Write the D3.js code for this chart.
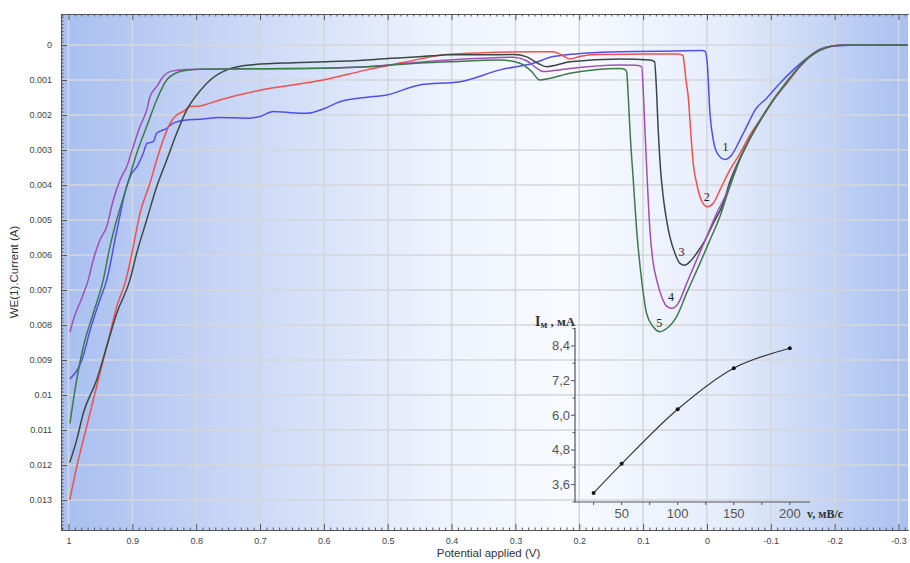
<!DOCTYPE html>
<html><head><meta charset="utf-8">
<script src="https://cdn.jsdelivr.net/npm/d3@7"></script>
<style>body{margin:0;background:#fff}svg{display:block}</style>
</head><body>
<svg id="c" width="910" height="563"></svg>
<script>
// ---------------- data ----------------
const xTickValues = [1,0.9,0.8,0.7,0.6,0.5,0.4,0.3,0.2,0.1,0,-0.1,-0.2,-0.3];
const yTickValues = [0,0.001,0.002,0.003,0.004,0.005,0.006,0.007,0.008,0.009,0.01,0.011,0.012,0.013];

// curve 1 (blue): [potential V, current A]
const curve1 = [[0.998,0.00954],[0.979,0.0090],[0.966,0.00814],[0.951,0.00729],[0.940,0.00671],[0.925,0.00537],[0.909,0.00405],[0.901,0.00367],[0.893,0.00348],[0.883,0.0031],[0.877,0.00281],[0.867,0.00276],[0.862,0.00252],[0.846,0.00238],[0.836,0.00223],[0.815,0.00214],[0.794,0.00212],[0.763,0.00207],[0.716,0.00209],[0.700,0.00204],[0.679,0.0019],[0.655,0.00193],[0.627,0.00195],[0.600,0.00182],[0.575,0.00162],[0.535,0.0015],[0.502,0.00143],[0.450,0.00114],[0.387,0.00105],[0.324,0.00071],[0.272,0.00052],[0.241,0.00033],[0.220,0.00028],[0.188,0.00023],[0.136,0.00019],[0.050,0.00017],[0.008,0.00016],[0.003,0.00018],[-0.0005,0.00052],[-0.0047,0.00195],[-0.0099,0.00271],[-0.0177,0.00314],[-0.0282,0.00327],[-0.0387,0.00314],[-0.0517,0.00271],[-0.0647,0.00224],[-0.0752,0.00186],[-0.0935,0.00152],[-0.1143,0.00109],[-0.1352,0.00071],[-0.1561,0.00038],[-0.177,0.00012],[-0.198,0.00003],[-0.25,0],[-0.315,0]];
// curve 2 (red)
const curve2 = [[0.998,0.0130],[0.987,0.01205],[0.9715,0.0109],[0.9585,0.00995],[0.9507,0.00938],[0.935,0.00824],[0.9245,0.00748],[0.910,0.00671],[0.8985,0.00576],[0.888,0.00481],[0.8724,0.00395],[0.8619,0.00329],[0.8515,0.00271],[0.841,0.00224],[0.8305,0.0020],[0.8202,0.0019],[0.8097,0.00176],[0.794,0.00174],[0.763,0.00157],[0.700,0.00129],[0.601,0.0010],[0.533,0.00071],[0.470,0.00048],[0.418,0.00029],[0.350,0.00022],[0.272,0.00019],[0.241,0.00019],[0.228,0.00028],[0.2146,0.0004],[0.200,0.00033],[0.170,0.00027],[0.100,0.00026],[0.045,0.00026],[0.0375,0.0003],[0.0357,0.00052],[0.0329,0.001],[0.0293,0.00148],[0.0256,0.00243],[0.0215,0.00338],[0.0162,0.00395],[0.011,0.00433],[0.0058,0.00454],[-0.0005,0.00462],[-0.0099,0.00452],[-0.0204,0.00414],[-0.036,0.00357],[-0.0517,0.0031],[-0.0674,0.00257],[-0.083,0.00214],[-0.1039,0.00157],[-0.1249,0.0011],[-0.1457,0.00062],[-0.1665,0.00024],[-0.1874,0.00007],[-0.208,0.00001],[-0.25,0],[-0.315,0]];
// curve 3 (dark grey)
const curve3 = [[0.998,0.01193],[0.9872,0.01129],[0.9768,0.01052],[0.9558,0.00957],[0.9402,0.00862],[0.9245,0.00767],[0.9037,0.00671],[0.8932,0.00595],[0.8775,0.0050],[0.8619,0.00405],[0.8462,0.00329],[0.8305,0.00252],[0.8149,0.00186],[0.794,0.00131],[0.778,0.0010],[0.752,0.00071],[0.716,0.00057],[0.637,0.0005],[0.533,0.00043],[0.512,0.0004],[0.429,0.00031],[0.408,0.00028],[0.350,0.00028],[0.303,0.00027],[0.282,0.00034],[0.265,0.00052],[0.251,0.00062],[0.235,0.00057],[0.2146,0.00048],[0.136,0.0004],[0.089,0.00043],[0.082,0.00048],[0.0798,0.001],[0.0763,0.00243],[0.0726,0.00357],[0.0685,0.00433],[0.0632,0.005],[0.058,0.00548],[0.0501,0.00595],[0.0423,0.00624],[0.0345,0.00629],[0.0266,0.00619],[0.0162,0.00595],[0.0058,0.00567],[-0.0099,0.0051],[-0.0256,0.00452],[-0.036,0.0039],[-0.0517,0.00323],[-0.0674,0.00266],[-0.083,0.00217],[-0.1039,0.00157],[-0.1249,0.00106],[-0.1457,0.0006],[-0.1665,0.00026],[-0.1874,0.00007],[-0.208,0.00001],[-0.25,0],[-0.315,0]];
// curve 4 (purple)
const curve4 = [[0.9977,0.0082],[0.9898,0.00771],[0.9804,0.00729],[0.969,0.00671],[0.9612,0.00614],[0.9507,0.00557],[0.9402,0.00519],[0.9298,0.00443],[0.9193,0.00386],[0.9088,0.00348],[0.8985,0.0029],[0.888,0.00233],[0.8775,0.00186],[0.8724,0.00148],[0.8619,0.00119],[0.8515,0.0009],[0.841,0.00076],[0.815,0.0007],[0.794,0.00069],[0.716,0.00068],[0.637,0.00067],[0.533,0.00062],[0.470,0.00052],[0.4025,0.00043],[0.3242,0.00036],[0.3034,0.00035],[0.2824,0.00045],[0.265,0.00068],[0.2564,0.00076],[0.240,0.00073],[0.2146,0.00067],[0.136,0.00057],[0.110,0.00058],[0.1023,0.00062],[0.0998,0.00129],[0.0971,0.00243],[0.0935,0.00386],[0.0893,0.00529],[0.0841,0.00624],[0.0787,0.00671],[0.0709,0.00719],[0.0632,0.00746],[0.0553,0.00752],[0.045,0.00738],[0.0318,0.00681],[0.0162,0.00614],[0.0005,0.00548],[-0.0152,0.00481],[-0.0309,0.00424],[-0.0517,0.00326],[-0.0674,0.00268],[-0.083,0.00218],[-0.1039,0.00158],[-0.1249,0.00107],[-0.1457,0.00061],[-0.1665,0.00026],[-0.1874,0.00007],[-0.208,0.00001],[-0.25,0],[-0.315,0]];
// curve 5 (green)
const curve5 = [[0.9977,0.01081],[0.9872,0.00957],[0.9768,0.00862],[0.9612,0.00767],[0.9455,0.00671],[0.935,0.00576],[0.9245,0.0050],[0.9088,0.00405],[0.8932,0.0031],[0.8775,0.00233],[0.8619,0.00157],[0.8462,0.0010],[0.8305,0.00079],[0.815,0.00072],[0.794,0.00069],[0.716,0.00068],[0.637,0.00067],[0.533,0.00062],[0.470,0.00054],[0.4025,0.00048],[0.3242,0.00043],[0.2929,0.00052],[0.275,0.00075],[0.2616,0.0010],[0.245,0.00095],[0.2146,0.00081],[0.136,0.00067],[0.1284,0.0007],[0.1258,0.00076],[0.1232,0.00148],[0.1206,0.00243],[0.1154,0.00386],[0.1101,0.00529],[0.1023,0.00671],[0.0945,0.00767],[0.0841,0.00805],[0.0736,0.00819],[0.0632,0.0081],[0.0475,0.00776],[0.0318,0.00709],[0.011,0.00624],[-0.0047,0.00557],[-0.0204,0.0049],[-0.033,0.0042],[-0.0517,0.00326],[-0.0674,0.00267],[-0.083,0.00217],[-0.1039,0.00157],[-0.1249,0.00106],[-0.1457,0.0006],[-0.1665,0.00026],[-0.1874,0.00007],[-0.208,0.00001],[-0.25,0],[-0.315,0]];

const curveNames = ["1","2","3","4","5"];
const curveColors = ["#4f4ff0","#f05050","#3b4743","#a050b4","#3c7a4e"];
const labelPos = [[-0.029,0.00291],[0.0005,0.00433],[0.0397,0.0059],[0.0564,0.00719],[0.0747,0.00793]];

// inset data
const insetRate = [25,50,100,150,200];          // v, mV/s
const insetPeak = [3.31,4.32,6.21,7.63,8.32];    // I, mA
const insetYTicks = [3.6,4.8,6.0,7.2,8.4];
const insetYLabels = ["3,6","4,8","6,0","7,2","8,4"];
const insetYMinor = [3.0,4.2,5.4,6.6,7.8,9.0];
const insetXTicks = [50,100,150,200];
const insetXMinor = [25,75,125,175];

// ---------------- layout ----------------
const svg = d3.select("#c");
const L=61,R=908,T=14,B=530;
const x = d3.scaleLinear().domain([1.0117,-0.3149]).range([L,R]);
const y = d3.scaleLinear().domain([-0.000886,0.013857]).range([T,B]);

const defs = svg.append("defs");
const grad = defs.append("linearGradient").attr("id","bg").attr("x1","0").attr("x2","1").attr("y1","0").attr("y2","0");
[[0,"#a8bff0"],[0.18,"#c5d4f5"],[0.45,"#eef3fd"],[0.6,"#f8faff"],[0.78,"#e6edfb"],[1,"#a9c0f0"]]
  .forEach(s=>grad.append("stop").attr("offset",s[0]).attr("stop-color",s[1]));
defs.append("clipPath").attr("id","clip").append("rect").attr("x",L).attr("y",T).attr("width",R-L).attr("height",B-T);

svg.append("rect").attr("x",L).attr("y",T).attr("width",R-L).attr("height",B-T).attr("fill","url(#bg)");

// grid
const grid = svg.append("g").attr("stroke","#d4d6da").attr("stroke-width",1.5);
grid.selectAll(".gx").data(xTickValues).join("line")
  .attr("x1",d=>x(d)).attr("x2",d=>x(d)).attr("y1",T).attr("y2",B);
grid.selectAll(".gy").data(yTickValues).join("line")
  .attr("x1",L).attr("x2",R).attr("y1",d=>y(d)).attr("y2",d=>y(d));

// axes
const axisColor="#555";
const fmtX = d=>String(d);
const fmtY = d=>String(d);
const minorX = d3.range(-31,102).map(i=>i/100).filter(v=>Math.abs(Math.round(v*100))%10!==0);
const minorY = d3.range(-8,139).map(i=>i/10000).filter(v=>Math.round(v*10000)%10!==0);

function styleAxis(g){
  g.selectAll("path").attr("stroke",axisColor);
  g.selectAll("line").attr("stroke",axisColor);
  g.selectAll("text").attr("fill","#444").style("font-family","'Liberation Sans',Arial,sans-serif").style("font-size","9px");
}
svg.append("g").attr("transform",`translate(0,${B})`)
  .call(d3.axisBottom(x).tickValues(xTickValues).tickFormat(fmtX).tickSize(-6).tickSizeOuter(0).tickPadding(8)).call(styleAxis);
svg.append("g").attr("transform",`translate(0,${B})`)
  .call(d3.axisBottom(x).tickValues(minorX).tickFormat("").tickSize(-2.5).tickSizeOuter(0)).call(styleAxis);
svg.append("g").attr("transform",`translate(0,${T})`)
  .call(d3.axisTop(x).tickValues(xTickValues).tickFormat("").tickSize(-6).tickSizeOuter(0)).call(styleAxis);
svg.append("g").attr("transform",`translate(0,${T})`)
  .call(d3.axisTop(x).tickValues(minorX).tickFormat("").tickSize(-2.5).tickSizeOuter(0)).call(styleAxis);
svg.append("g").attr("transform",`translate(${L},0)`)
  .call(d3.axisLeft(y).tickValues(yTickValues).tickFormat(fmtY).tickSize(-6).tickSizeOuter(0).tickPadding(9)).call(styleAxis);
svg.append("g").attr("transform",`translate(${L},0)`)
  .call(d3.axisLeft(y).tickValues(minorY).tickFormat("").tickSize(-2.5).tickSizeOuter(0)).call(styleAxis);

// axis titles
svg.append("text").attr("x",(L+R)/2+4).attr("y",557).attr("text-anchor","middle")
  .style("font-family","'Liberation Sans',Arial,sans-serif").style("font-size","11.5px").attr("fill","#333")
  .text("Potential applied (V)");
svg.append("text").attr("transform",`translate(18,${(T+B)/2}) rotate(-90)`).attr("text-anchor","middle")
  .style("font-family","'Liberation Sans',Arial,sans-serif").style("font-size","11.5px").attr("fill","#333")
  .text("WE(1).Current (A)");

// curves
const line = d3.line().x(d=>x(d[0])).y(d=>y(d[1])).curve(d3.curveMonotoneX);
const plot = svg.append("g").attr("clip-path","url(#clip)");
[curve1,curve2,curve3,curve4,curve5].forEach((c,i)=>{
  plot.append("path").datum(c).attr("d",line).attr("fill","none")
    .attr("stroke",curveColors[i]).attr("stroke-width",1.5).attr("stroke-linejoin","round");
});
svg.selectAll(".clab").data(curveNames).join("text")
  .attr("x",(d,i)=>x(labelPos[i][0])).attr("y",(d,i)=>y(labelPos[i][1])+4)
  .attr("text-anchor","middle")
  .style("font-family","'Liberation Serif','Times New Roman',serif").style("font-size","12px").attr("fill","#222")
  .text(d=>d);

// ---------------- inset ----------------
const ix = d3.scaleLinear().domain([8.4,218]).range([575,810]);
const iy = d3.scaleLinear().domain([3.0,9.02]).range([502,328]);
const inset = svg.append("g");
inset.append("line").attr("x1",575).attr("x2",575).attr("y1",328).attr("y2",502).attr("stroke","#555").attr("stroke-width",1.2);
inset.append("line").attr("x1",575).attr("x2",810).attr("y1",502).attr("y2",502).attr("stroke","#555").attr("stroke-width",1.2);
const iFont = "'Liberation Sans',Arial,sans-serif";
inset.selectAll(".iyt").data(insetYTicks).join("line")
  .attr("x1",571).attr("x2",575).attr("y1",d=>iy(d)).attr("y2",d=>iy(d)).attr("stroke","#555");
inset.selectAll(".iym").data(insetYMinor).join("line")
  .attr("x1",572.5).attr("x2",575).attr("y1",d=>iy(d)).attr("y2",d=>iy(d)).attr("stroke","#555");
inset.selectAll(".iyl").data(insetYTicks).join("text")
  .attr("x",570).attr("y",d=>iy(d)+4.5).attr("text-anchor","end")
  .style("font-family",iFont).style("font-size","13px").attr("fill","#555")
  .text((d,i)=>insetYLabels[i]);
inset.selectAll(".ixt").data(insetXTicks.concat(insetXMinor)).join("line")
  .attr("x1",d=>ix(d)).attr("x2",d=>ix(d)).attr("y1",502).attr("y2",505).attr("stroke","#555");
inset.selectAll(".ixl").data(insetXTicks).join("text")
  .attr("x",d=>ix(d)).attr("y",518).attr("text-anchor","middle")
  .style("font-family",iFont).style("font-size","13px").attr("fill","#555")
  .text(d=>d);
const ipts = insetRate.map((v,i)=>[v,insetPeak[i]]);
inset.append("path").datum(ipts)
  .attr("d",d3.line().x(d=>ix(d[0])).y(d=>iy(d[1])).curve(d3.curveCatmullRom.alpha(0.5)))
  .attr("fill","none").attr("stroke","#333").attr("stroke-width",1.1);
inset.selectAll(".ip").data(ipts).join("circle")
  .attr("cx",d=>ix(d[0])).attr("cy",d=>iy(d[1])).attr("r",2).attr("fill","#111");
const ylab = inset.append("text").attr("x",535).attr("y",326)
  .style("font-family","'Liberation Serif','Times New Roman',serif").style("font-weight","bold").attr("fill","#333");
ylab.append("tspan").style("font-size","14px").text("I");
ylab.append("tspan").style("font-size","10px").attr("dy",2).text("м");
ylab.append("tspan").style("font-size","13px").attr("dy",-2).text(" , мА");
inset.append("text").attr("x",807).attr("y",518)
  .style("font-family","'Liberation Serif','Times New Roman',serif").style("font-weight","bold").style("font-size","12px").attr("fill","#333")
  .text("v, мВ/с");
</script>
</body></html>
